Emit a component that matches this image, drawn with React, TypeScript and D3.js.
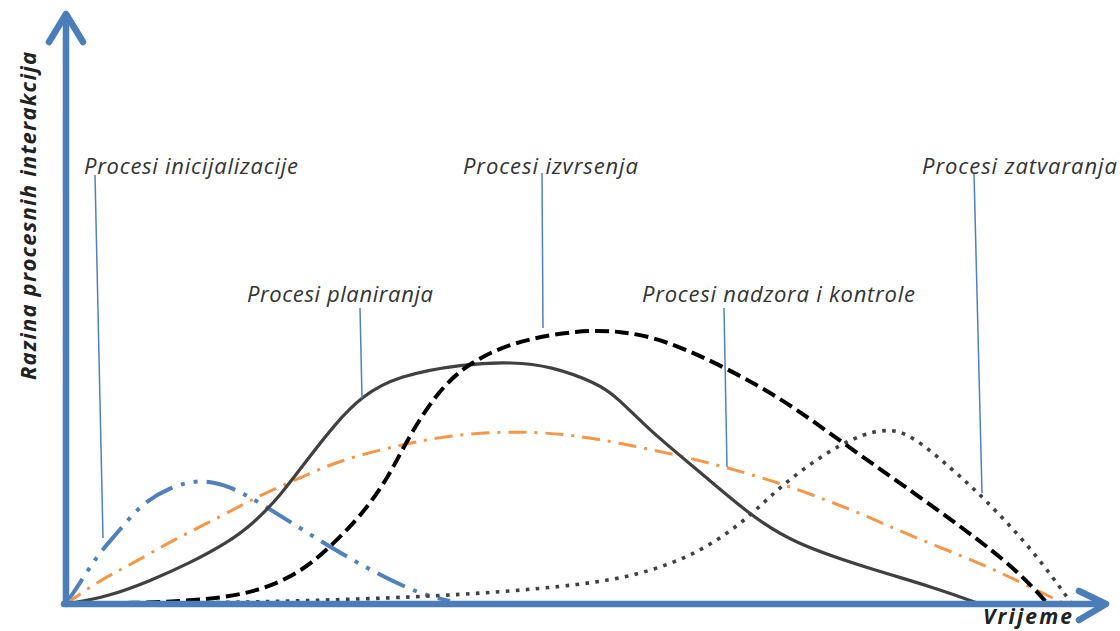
import * as d3 from "d3";

// time (x) and interaction level (y)
const initiating: [number, number][] = [
  [0, 0], [1.9, 2.9], [3.4, 5.2], [5.4, 7.4], [7.4, 9.9], [10.4, 11.7], [13.4, 12.5],
  [16.4, 11.8], [19.4, 10.1], [23.4, 7.6], [27.4, 5.1], [31.4, 2.9], [35.4, 1.0], [38.4, 0.3],
];
const planning: [number, number][] = [
  [0, 0], [4.1, 0.7], [8.4, 2.3], [12.4, 4.1], [16.1, 6.1], [18.7, 8.0], [21.4, 10.8],
  [24.1, 14.4], [26.9, 18.0], [29.6, 20.8], [33.1, 22.8], [39.7, 24.0], [44.7, 24.2],
  [48.4, 23.8], [53.1, 22.1], [55.1, 20.7], [58.4, 17.3], [63.4, 13.2], [68.4, 8.9],
  [72.7, 6.1], [80.1, 3.6], [86.7, 1.7], [91.4, 0],
];
const executing: [number, number][] = [
  [0, 0], [7.4, 0.1], [14.1, 0.4], [19.1, 1.2], [23.4, 3.1], [26.4, 5.7], [29.4, 8.7],
  [32.1, 12.4], [34.1, 16.4], [36.7, 20.6], [39.7, 23.8], [44.7, 26.3], [51.4, 27.4],
  [55.4, 27.3], [59.7, 26.5], [66.1, 23.6], [72.1, 20.2], [77.7, 16.1], [83.4, 12.1],
  [90.1, 7.3], [95.1, 3.4], [98.2, 0],
];
const monitoring: [number, number][] = [
  [0, 0], [3.4, 2.4], [6.4, 3.9], [10.7, 6.4], [15.4, 8.7], [19.4, 10.9], [23.4, 12.6],
  [27.4, 14.4], [33.4, 15.9], [38.4, 16.9], [44.4, 17.3], [50.4, 17.0], [56.4, 15.9],
  [63.4, 14.4], [69.4, 12.7], [73.4, 11.4], [79.4, 9.1], [84.7, 6.7], [91.4, 4.1],
  [95.4, 2.2], [99.9, 0],
];
const closing: [number, number][] = [
  [0, 0], [13.4, 0.1], [23.4, 0.3], [35.4, 0.7], [43.4, 1.2], [51.4, 1.9], [57.4, 2.9],
  [63.4, 5.1], [68.4, 8.7], [71.7, 12.1], [77.7, 16.3], [81.7, 17.6], [84.4, 17.1],
  [88.7, 13.4], [91.7, 10.7], [96.7, 5.4], [100.6, 0],
];

const labels = [
  "Procesi inicijalizacije",
  "Procesi planiranja",
  "Procesi izvrsenja",
  "Procesi nadzora i kontrole",
  "Procesi zatvaranja",
];
// label start x, baseline y, leader top and bottom (data units)
const labelAt: [number, number][] = [[1.8, 43.0], [18.1, 30.2], [39.7, 43.0], [57.6, 30.2], [85.6, 43.0]];
const labelSpan = [21.4, 18.6, 17.5, 27.3, 19.5];
const leaderTop: [number, number][] = [[2.9, 42.9], [29.4, 29.6], [47.6, 43.1], [65.8, 29.6], [90.8, 43.1]];
const leaderEnd: [number, number][] = [[3.7, 6.6], [29.6, 20.6], [47.7, 27.6], [66.1, 13.7], [91.6, 11.1]];

const W = 1120, H = 631;
const x = d3.scaleLinear().domain([0, 105]).range([66, 1116]);
const y = d3.scaleLinear().domain([0, 60]).range([604, 4]);
const line = d3.line<[number, number]>().x(d => x(d[0])).y(d => y(d[1])).curve(d3.curveBasis);

const series = [
  { data: initiating, color: "#4F81BD", width: 4, dash: "30 9 4 9 4 9" },
  { data: monitoring, color: "#F79646", width: 3, dash: "18 8 3 8" },
  { data: planning, color: "#404040", width: 3.2, dash: null },
  { data: executing, color: "#000000", width: 4, dash: "14 6" },
  { data: closing, color: "#404040", width: 3.6, dash: "3.6 6.4" },
];

const axisBlue = "#4A7EBB";
const font = "'Open Sans', Lato, sans-serif";

export default function App() {
  const x0 = x(0), y0 = y(0);
  const px = x(1) - x(0);
  return (
    <svg width={W} height={H} style={{ position: "absolute", left: 0, top: 0, background: "#fff" }}>
      {series.map((s, i) => (
        <path key={i} d={line(s.data) ?? ""} fill="none" stroke={s.color}
          strokeWidth={s.width} strokeDasharray={s.dash ?? undefined} />
      ))}

      {labels.map((t, i) => (
        <g key={t}>
          <line x1={x(leaderTop[i][0])} y1={y(leaderTop[i][1])} x2={x(leaderEnd[i][0])} y2={y(leaderEnd[i][1])}
            stroke="#4F81BD" strokeWidth={1.5} />
          <text x={x(labelAt[i][0])} y={y(labelAt[i][1])} fontFamily={font} fontStyle="italic"
            fontSize={22} fill="#333" textLength={labelSpan[i] * px} lengthAdjust="spacing">{t}</text>
        </g>
      ))}

      {/* axes */}
      <g stroke={axisBlue} strokeWidth={6.5} fill="none" strokeLinecap="round" strokeLinejoin="round">
        <line x1={x0} y1={y0} x2={x0} y2={16} />
        <polyline points={`${x0 - 17},${42} ${x0},${14} ${x0 + 17},${42}`} />
        <line x1={x0 - 2} y1={y0} x2={1104} y2={y0} />
        <polyline points={`${1079},${y0 - 13} ${1106},${y0} ${1079},${y0 + 16}`} />
      </g>

      <text transform={`translate(36, 216) rotate(-90)`} textAnchor="middle" fontFamily={font}
        fontStyle="italic" fontWeight="bold" fontSize={22} fill="#222" textLength={328}
        lengthAdjust="spacing">Razina procesnih interakcija</text>
      <text x={983} y={624} fontFamily={font} fontStyle="italic" fontWeight="bold" fontSize={21}
        fill="#222" textLength={89} lengthAdjust="spacing">Vrijeme</text>
    </svg>
  );
}
